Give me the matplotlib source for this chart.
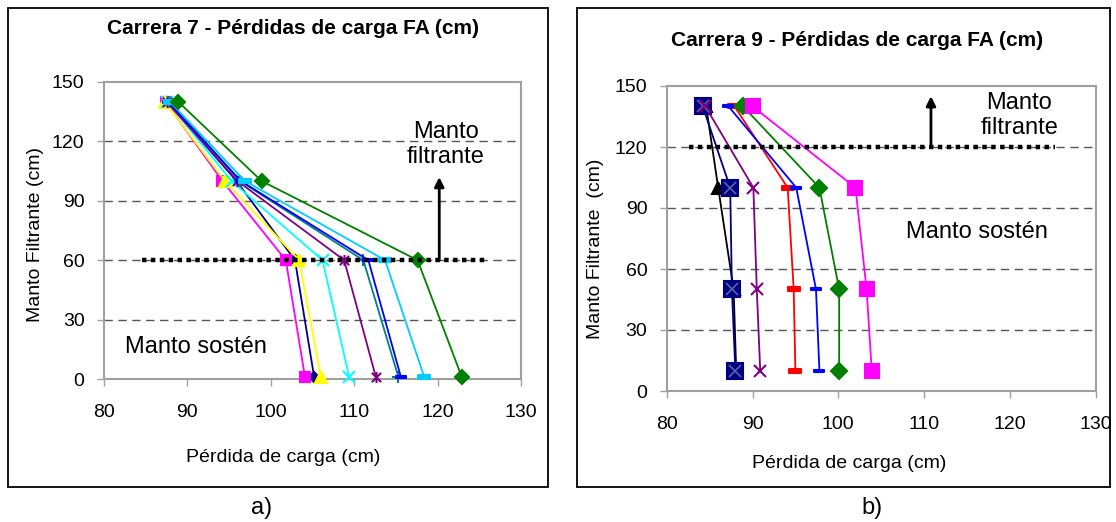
import matplotlib.pyplot as plt
from matplotlib.path import Path
from matplotlib.patches import Rectangle

plt.rcParams['font.family'] = ['Liberation Sans', 'DejaVu Sans']

W, H = 1116, 522

# Carrera 7: profundidad (cm) y perdida de carga (cm) por serie
prof_c7 = [140, 100, 60, 1]
c7_navy = [87.6, 95.9, 102.9, 105.2]
c7_magenta = [87.4, 94.2, 101.8, 104.1]
c7_amarillo = [87.3, 94.5, 103.4, 106.0]
c7_cian = [87.6, 95.3, 106.2, 109.4]
c7_purpura = [87.5, 96.0, 108.8, 112.6]
c7_teal = [87.8, 96.3, 111.1, 115.3]
c7_azul = [87.7, 96.4, 111.7, 115.6]
c7_celeste = [87.9, 96.9, 113.7, 118.4]
c7_verde = [88.9, 98.9, 117.6, 122.9]

# Carrera 9
prof_c9 = [140, 100, 50, 10]
c9_negro = [84.6, 86.0, 87.8, 88.1]
c9_navy = [84.2, 87.4, 87.6, 88.0]
c9_purpura = [84.5, 90.1, 90.5, 90.9]
c9_rojo = [87.9, 94.1, 94.8, 95.0]
c9_azul = [87.2, 95.1, 97.4, 97.8]
c9_verde = [88.9, 97.8, 100.1, 100.1]
c9_magenta = [90.0, 102.0, 103.3, 103.9]

x_ticks = [80, 90, 100, 110, 120, 130]
y_ticks = [0, 30, 60, 90, 120, 150]

# limite entre mantos
limite_c7 = 60
limite_c9 = 120

# marcadores tipo Excel
asterisco = Path([(-1, -1), (1, 1), (-1, 1), (1, -1), (0, -1.2), (0, 1.2)],
                 [Path.MOVETO, Path.LINETO, Path.MOVETO, Path.LINETO, Path.MOVETO, Path.LINETO])
barra = Path([(-1, -0.32), (1, -0.32), (1, 0.32), (-1, 0.32), (-1, -0.32)],
             [Path.MOVETO, Path.LINETO, Path.LINETO, Path.LINETO, Path.CLOSEPOLY])
barra_larga = Path([(-1, -0.3), (1, -0.3), (1, 0.3), (-1, 0.3), (-1, -0.3)],
                   [Path.MOVETO, Path.LINETO, Path.LINETO, Path.LINETO, Path.CLOSEPOLY])

series_c7 = [
    (c7_navy, '#000080', 'D', 5),
    (c7_magenta, '#FF00FF', 's', 7.5),
    (c7_amarillo, '#FFFF00', '^', 9),
    (c7_cian, '#00FFFF', 'x', 8),
    (c7_purpura, '#800080', asterisco, 8),
    (c7_teal, '#008080', '+', 9),
    (c7_azul, '#0000FF', barra, 6.5),
    (c7_celeste, '#00CCFF', barra_larga, 8.5),
    (c7_verde, '#008000', 'D', 7),
]

series_c9 = [
    (c9_negro, '#000000', '^', 9),
    (c9_navy, '#000080', 's', 12),
    (c9_purpura, '#800080', 'x', 9),
    (c9_rojo, '#FF0000', barra, 8.5),
    (c9_azul, '#0000FF', barra, 6.5),
    (c9_verde, '#008000', 'D', 8),
    (c9_magenta, '#FF00FF', 's', 10),
]


def px(x, y):
    return x / W, 1 - y / H


def preparar_ejes(ax):
    ax.set_xlim(80, 130)
    ax.set_ylim(0, 150)
    ax.set_xticks(x_ticks)
    ax.set_yticks(y_ticks)
    for s in ax.spines.values():
        s.set_color('#A0A0A0')
        s.set_linewidth(1.5)
    ax.tick_params(direction='out', length=5, width=1, color='#A0A0A0', labelsize=14)
    ax.tick_params(axis='x', pad=13)
    ax.tick_params(axis='y', pad=9)
    for v in y_ticks[1:-1]:
        ax.axhline(v, color='#555555', lw=1.0, ls=(0, (6, 4)), zorder=1)


def dibujar(ax, prof, series):
    for vals, color, mk, ms in series:
        ax.plot(vals, prof, color=color, lw=1.3, marker=mk, ms=ms,
                mfc=color, mec=color, mew=1.5, zorder=3, clip_on=False)


fig = plt.figure(figsize=(W / 100, H / 100), dpi=100)

# marcos de cada grafico
for x0, y0, x1, y1 in [(8, 8, 548, 487), (577, 8, 1110, 487)]:
    fig.add_artist(Rectangle(px(x0, y1), (x1 - x0) / W, (y1 - y0) / H,
                             transform=fig.transFigure, fill=False, ec='black', lw=1.3))

# a) Carrera 7
ax1 = fig.add_axes([104 / W, 1 - 379 / H, 417 / W, 297 / H])
preparar_ejes(ax1)
dibujar(ax1, prof_c7, series_c7)
ax1.hlines(limite_c7, 84.5, 126, color='black', lw=3.2, ls=(0, (1.0, 1.0)), zorder=4)
ax1.annotate('', xy=(120.2, 102), xytext=(120.2, limite_c7),
             arrowprops=dict(arrowstyle='-|>', color='black', lw=2, mutation_scale=14,
                             shrinkA=0, shrinkB=0), zorder=5)
ax1.text(121, 118.5, 'Manto\nfiltrante', ha='center', va='center', fontsize=17, linespacing=1.15)
ax1.text(82.5, 16, 'Manto sostén', ha='left', va='center', fontsize=17)

fig.text(*px(293, 29), 'Carrera 7 - Pérdidas de carga FA (cm)', ha='center', va='center',
         fontsize=15, fontweight='bold')
fig.text(*px(283, 457), 'Pérdida de carga (cm)', ha='center', va='center', fontsize=14)
fig.text(*px(36, 234), 'Manto Filtrante (cm)', ha='center', va='center', fontsize=14, rotation=90)
fig.text(*px(262, 508), 'a)', ha='center', va='center', fontsize=17)

# b) Carrera 9
ax2 = fig.add_axes([666.7 / W, 1 - 391 / H, 429 / W, 305 / H])
preparar_ejes(ax2)
dibujar(ax2, prof_c9, series_c9)
ax2.plot(c9_navy, prof_c9, ls='none', marker='x', ms=9, mec='#5566AA', mew=1.2, zorder=3.5)
ax2.plot(c9_purpura[:1], prof_c9[:1], ls='none', marker='x', ms=9, mec='#800080', mew=1.5, zorder=3.6)
ax2.hlines(limite_c9, 82.6, 125.2, color='black', lw=3.2, ls=(0, (1.0, 1.0)), zorder=4)
ax2.annotate('', xy=(110.8, 145), xytext=(110.8, limite_c9),
             arrowprops=dict(arrowstyle='-|>', color='black', lw=2, mutation_scale=14,
                             shrinkA=0, shrinkB=0), zorder=5)
ax2.text(121.1, 135.5, 'Manto\nfiltrante', ha='center', va='center', fontsize=17, linespacing=1.15)
ax2.text(116.1, 78, 'Manto sostén', ha='center', va='center', fontsize=17)

fig.text(*px(857, 40), 'Carrera 9 - Pérdidas de carga FA (cm)', ha='center', va='center',
         fontsize=15, fontweight='bold')
fig.text(*px(849, 463), 'Pérdida de carga (cm)', ha='center', va='center', fontsize=14)
fig.text(*px(595, 249), 'Manto Filtrante  (cm)', ha='center', va='center', fontsize=14, rotation=90)
fig.text(*px(872, 508), 'b)', ha='center', va='center', fontsize=17)

fig.savefig('out.png', dpi=100, facecolor='white')
